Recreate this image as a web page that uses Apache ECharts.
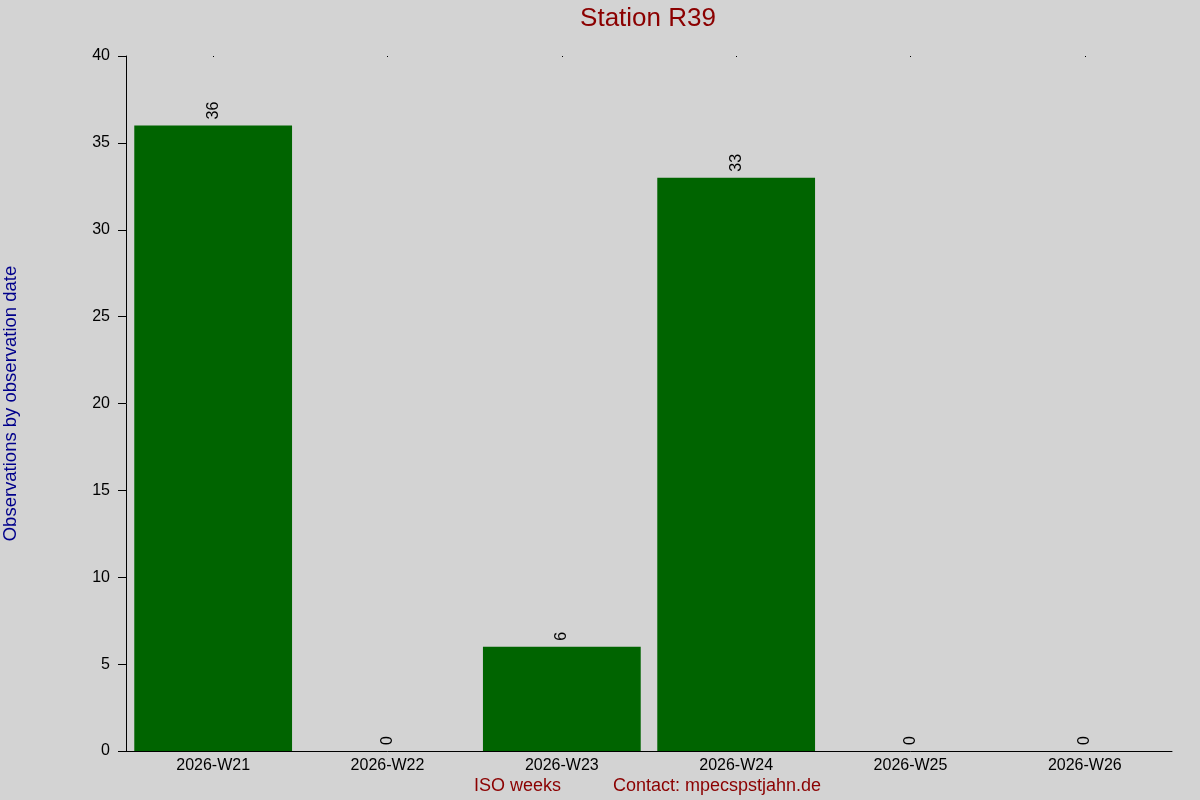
<!DOCTYPE html>
<html>
<head>
<meta charset="utf-8">
<script src="https://cdn.jsdelivr.net/npm/echarts@6/dist/echarts.min.js"></script>
<style>
  html, body { margin: 0; padding: 0; background: #d3d3d3; }
  #chart { width: 1200px; height: 800px; }
</style>
</head>
<body>
<div id="chart"></div>
<script>
// weekly counts
var weeks = ['2026-W21', '2026-W22', '2026-W23', '2026-W24', '2026-W25', '2026-W26'];
var counts = [36, 0, 6, 33, 0, 0];
var yMin = 0, yMax = 40, yStep = 5;

var font = 'Liberation Sans, Arial, sans-serif';
var myChart = echarts.init(document.getElementById('chart'));

var option = {
    backgroundColor: '#d3d3d3',
    animation: false,
    title: {
        text: 'Station R39',
        left: 643,
        top: 1,
        textAlign: 'center',
        textStyle: { color: '#8b0000', fontSize: 26, fontWeight: 'normal', fontFamily: font }
    },
    grid: { left: 126, right: 28, top: 56, bottom: 49, containLabel: false, outerBoundsMode: 'none' },
    xAxis: [{
        type: 'category',
        data: weeks,
        axisLine: { lineStyle: { color: '#000', width: 1 } },
        axisTick: { show: false },
        axisLabel: { color: '#000', fontSize: 16, fontFamily: font, margin: 7 }
    }, {
        // tiny marks along the top edge
        type: 'category',
        data: weeks,
        position: 'top',
        axisLine: { show: false },
        axisTick: { show: true, alignWithLabel: true, length: -1, lineStyle: { color: '#000' } },
        axisLabel: { show: false }
    }],
    yAxis: {
        type: 'value',
        min: yMin,
        max: yMax,
        interval: yStep,
        name: 'Observations by observation date',
        nameLocation: 'middle',
        nameGap: 106,
        nameTextStyle: { color: '#00008b', fontSize: 18.5, fontFamily: font },
        axisLine: { show: true, lineStyle: { color: '#000', width: 1 } },
        axisTick: { show: true, length: 8, lineStyle: { color: '#000' } },
        axisLabel: { color: '#000', fontSize: 16, fontFamily: font, margin: 16 },
        splitLine: { show: false }
    },
    series: [{
        type: 'bar',
        data: counts,
        barCategoryGap: '9.5%',
        itemStyle: { color: '#006400' },
        label: {
            show: true,
            position: 'top',
            rotate: 90,
            align: 'left',
            verticalAlign: 'middle',
            distance: 6,
            color: '#000',
            fontSize: 16,
            fontFamily: font
        }
    }],
    graphic: [{
        type: 'text',
        left: 474,
        top: 777,
        style: { text: 'ISO weeks', fill: '#8b0000', font: '18px ' + font }
    }, {
        type: 'text',
        left: 613,
        top: 777,
        style: { text: 'Contact: mpecspstjahn.de', fill: '#8b0000', font: '18px ' + font }
    }]
};

if (option && typeof option === 'object') {
    myChart.setOption(option, true);
}
</script>
</body>
</html>
